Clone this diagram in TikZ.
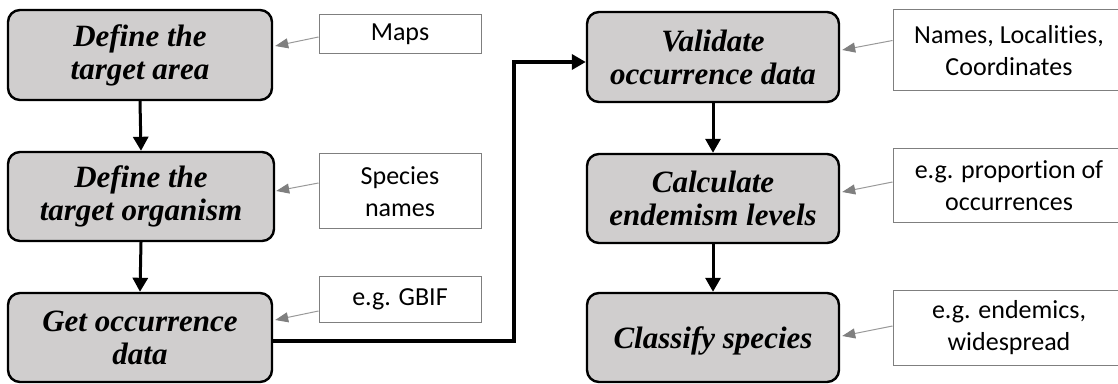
\documentclass[tikz,border=0pt]{standalone}
\usepackage{fontspec}
\setmainfont{Liberation Serif}
\newfontfamily\sidefont[Ligatures=NoCommon]{Carlito}
\usetikzlibrary{arrows.meta}
\definecolor{boxgray}{HTML}{D0CECE}
\definecolor{linegray}{HTML}{7F7F7F}
\definecolor{arrowgray}{HTML}{999999}
\tikzset{
  mainbox/.style={draw=black, line width=2.4pt, fill=boxgray, rounded corners=12pt,
    minimum width=264pt, minimum height=90pt, align=center, inner sep=2pt,
    font=\fontsize{31}{33}\selectfont\bfseries\itshape,
    execute at begin node=\rule{0pt}{28pt}},
  sidebox/.style={draw=linegray, line width=1pt, fill=white, align=center, inner sep=2pt,
    font=\sidefont\fontsize{26}{32}\selectfont},
  mainarrow/.style={draw=black, line width=3pt, -{Triangle[length=14pt,width=15pt]}},
  grayarrow/.style={draw=arrowgray, line width=1pt, -{Triangle[length=13pt,width=10pt,color=linegray]}}
}
\begin{document}
\begin{tikzpicture}[x=1pt,y=1pt]
\clip (0,0) rectangle (1118,383);
% main boxes
\node[mainbox] (A1) at (140,328) {Define the\\target area};
\node[mainbox, minimum width=266pt, minimum height=89pt] (A2) at (141,186.5) {Define the\\target organism};
\node[mainbox, minimum height=89pt] (A3) at (140,45.5) {Get occurrence\\data};
\node[mainbox, minimum width=252pt] (B1) at (713,326) {Validate\\occurrence data};
\node[mainbox, minimum width=252pt, minimum height=89pt] (B2) at (713,184.5) {Calculate\\endemism levels};
\node[mainbox, minimum width=252pt, minimum height=89pt] (B3) at (713,45.5) {Classify species};
% side boxes
\node[sidebox, minimum width=162pt, minimum height=39pt] (S1) at (400,348.5) {Maps};
\node[sidebox, minimum width=162pt, minimum height=75pt] (S2) at (400,191.5) {Species\\names};
\node[sidebox, minimum width=162pt, minimum height=46pt] (S3) at (400,84) {e.g. GBIF};
\node[sidebox, minimum width=232pt, minimum height=81pt] (T1) at (1009,332.5) {Names, Localities,\\Coordinates};
\node[sidebox, minimum width=232pt, minimum height=74pt] (T2) at (1009,197) {e.g. proportion of\\occurrences};
\node[sidebox, minimum width=232pt, minimum height=75pt] (T3) at (1009,55.5) {e.g. endemics,\\widespread};
% main flow
\draw[mainarrow] (A1.south) -- (A2.north);
\draw[mainarrow] (A2.south) -- (A3.north);
\draw[mainarrow, line width=3.5pt] ([yshift=-3.5pt]A3.east) -- ++(241,0) |- ([yshift=-5pt]B1.west);
\draw[mainarrow] (B1.south) -- (B2.north);
\draw[mainarrow] (B2.south) -- (B3.north);
% gray arrows
\draw[grayarrow] ([yshift=-2.5pt]S1.west) -- ([xshift=2pt,yshift=9pt]A1.east);
\draw[grayarrow] ([yshift=8.5pt]S2.west) -- ([xshift=1pt,yshift=5.5pt]A2.east);
\draw[grayarrow] ([yshift=-12pt]S3.west) -- ([xshift=2pt,yshift=17.5pt]A3.east);
\draw[grayarrow] ([yshift=10pt]T1.west) -- ([xshift=2pt,yshift=7pt]B1.east);
\draw[grayarrow] ([yshift=4pt]T2.west) -- ([xshift=2pt,yshift=6.5pt]B2.east);
\draw[grayarrow] ([yshift=1.5pt]T3.west) -- ([xshift=2pt,yshift=1.5pt]B3.east);
\end{tikzpicture}
\end{document}
